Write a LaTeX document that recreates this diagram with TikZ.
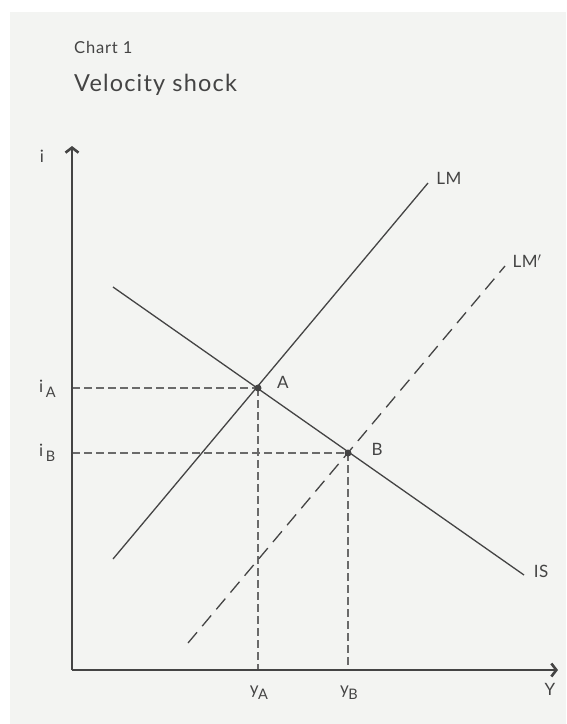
\documentclass[tikz,border=0pt]{standalone}
\usepackage{fontspec}
\setmainfont{Lato}
\usetikzlibrary{arrows.meta}
\definecolor{bg}{HTML}{F3F4F2}
\definecolor{ink}{HTML}{444444}
\definecolor{guidegray}{HTML}{6A6A6A}
\newcommand{\subl}[1]{\raisebox{-0.33em}{\fontsize{14.5}{16}\selectfont #1}}
\begin{document}
\begin{tikzpicture}[x=1pt,y=-1pt,
  axisline/.style={draw=ink, line width=2.2pt, -{Straight Barb[length=5pt,width=13pt,line width=2.6pt]}},
  curve/.style={draw=ink, line width=1.3pt},
  guide/.style={draw=guidegray, line width=1.1pt, dash pattern=on 8pt off 4pt},
  shifted/.style={draw=ink, line width=1.3pt, dash pattern=on 14pt off 8pt},
  lbl/.style={text=ink, font=\fontsize{17}{20}\selectfont\addfontfeatures{LetterSpace=3}, inner sep=0pt},
  dotmark/.style={circle, fill=ink, inner sep=0pt, minimum size=7pt}]
\useasboundingbox (0,0) rectangle (566,724);
\fill[bg] (10,12) rectangle (566,724);
% title
\node[text=ink, font=\fontsize{16.5}{19}\selectfont\addfontfeatures{LetterSpace=5}, inner sep=0pt, anchor=west] (chart) at (74,47) {Chart 1};
\node[text=ink, font=\fontsize{23.5}{28}\selectfont\addfontfeatures{LetterSpace=5}, inner sep=0pt, anchor=west] (title) at (74,85) {Velocity shock};
% coordinates
\coordinate (O) at (72,670);
\coordinate (top) at (72,146);
\coordinate (right) at (558,670);
\coordinate (A) at (258,388);
\coordinate (B) at (348,453);
\coordinate (iA) at (72,388);
\coordinate (iB) at (72,453);
\coordinate (yA) at (258,670);
\coordinate (yB) at (348,670);
\coordinate (LM1) at (113,559);
\coordinate (LM2) at (428,183);
\coordinate (LMp1) at (188,643);
\coordinate (LMp2) at (505,266);
\coordinate (IS1) at (113,287);
\coordinate (IS2) at (524,575);
% guides
\draw[guide] (iA) -- (A);
\draw[guide] (iB) -- (B);
\draw[guide] (A) -- (yA);
\draw[guide] (B) -- (yB);
% curves
\draw[curve] (LM1) -- (LM2);
\draw[curve] (IS1) -- (IS2);
\draw[shifted] (LMp1) -- (LMp2);
% axes
\draw[axisline] (O) -- (top);
\draw[axisline] (O) -- (right);
% points
\node[dotmark] (dotA) at (A) {};
\node[dotmark] (dotB) at (B) {};
% labels
\node[lbl] (li) at (42,156) {i};
\node[lbl, anchor=base west] (liA) at (39,392) {i\kern2.5pt\subl{A}};
\node[lbl, anchor=base west] (liB) at (39,456) {i\kern2.5pt\subl{B}};
\node[lbl, anchor=base] (lyA) at (259,694) {y\kern-0.5pt\subl{A}};
\node[lbl, anchor=base] (lyB) at (349,694) {y\kern-0.5pt\subl{B}};
\node[lbl] (lY) at (550,689) {Y};
\node[lbl] (lA) at (283,382) {A};
\node[lbl] (lB) at (377,449) {B};
\node[lbl] (lLM) at (449,178) {LM};
\node[lbl] (lLMp) at (527,261) {LM$'$};
\node[lbl] (lIS) at (541,571) {IS};
\end{tikzpicture}
\end{document}
